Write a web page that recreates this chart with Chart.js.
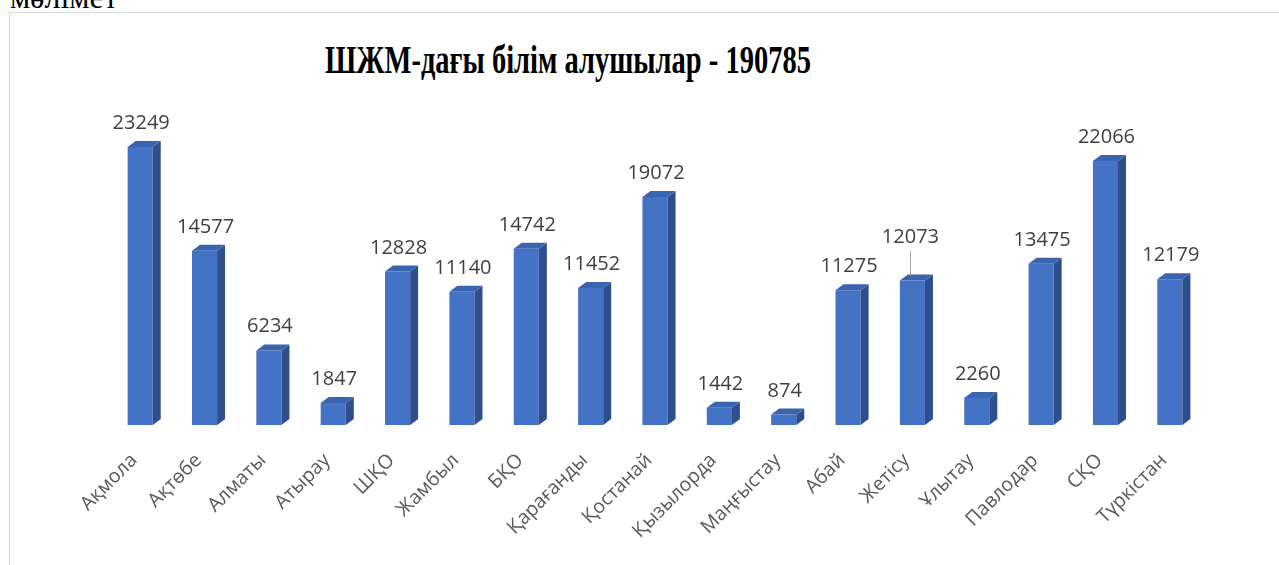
<!DOCTYPE html>
<html>
<head>
<meta charset="utf-8">
<script src="https://cdn.jsdelivr.net/npm/chart.js@4"></script>
<style>
  body { margin: 0; background: #fff; overflow: hidden; width: 1279px; height: 565px; position: relative; }
  #note { position: absolute; left: 10px; top: -19px; font: 32px/32px "Liberation Serif", serif; color: #000; }
  #frame { position: absolute; left: 9px; top: 12px; width: 1400px; height: 700px; border-left: 1px solid #d9d9d9; border-top: 1px solid #d9d9d9; }
  #title { position: absolute; left: 300px; width: 536px; top: 37px; text-align: center; font: bold 28.5px "Liberation Serif", serif; color: #000; transform: scaleY(1.42); transform-origin: center top; white-space: nowrap; }
  #wrap { position: absolute; left: 0; top: 0; width: 1279px; height: 565px; }
</style>
</head>
<body>
<div id="note">мәлімет</div>
<div id="frame"></div>
<div id="title">ШЖМ-дағы білім алушылар - 190785</div>
<div id="wrap"><canvas id="myChart"></canvas></div>
<script>
// регион атаулары мен білім алушылар саны
const regions = ["Ақмола","Ақтөбе","Алматы","Атырау","ШҚО","Жамбыл","БҚО","Қарағанды","Қостанай",
  "Қызылорда","Маңғыстау","Абай","Жетісу","Ұлытау","Павлодар","СҚО","Түркістан"];
const students = [23249,14577,6234,1847,12828,11140,14742,11452,19072,1442,874,11275,12073,2260,13475,22066,12179];

const frontColor = "#4472C4";
const sideColor = "#2E4F8D";
const topColor = "#3A63B0";
const depthX = 8, depthY = 6;
// label moved up with a leader line (index: extra px)
const raisedLabels = {12: 20};

const bars3d = {
  id: "bars3d",
  afterDatasetsDraw(chart) {
    const ctx = chart.ctx;
    const meta = chart.getDatasetMeta(0);
    ctx.save();
    meta.data.forEach((bar, i) => {
      const l = bar.x - bar.width / 2, r = bar.x + bar.width / 2;
      const t = bar.y, b = bar.base;
      // side
      ctx.fillStyle = sideColor;
      ctx.beginPath();
      ctx.moveTo(r, t); ctx.lineTo(r + depthX, t - depthY);
      ctx.lineTo(r + depthX, b - depthY); ctx.lineTo(r, b);
      ctx.closePath(); ctx.fill();
      // top
      ctx.fillStyle = topColor;
      ctx.beginPath();
      ctx.moveTo(l, t); ctx.lineTo(l + depthX, t - depthY);
      ctx.lineTo(r + depthX, t - depthY); ctx.lineTo(r, t);
      ctx.closePath(); ctx.fill();

      // value label
      const lift = raisedLabels[i] || 0;
      const lx = bar.x + 1 - (lift ? 3 : 0);
      const ly = t - 18 - lift;
      ctx.fillStyle = "#404040";
      ctx.font = "20px 'Open Sans'";
      ctx.textAlign = "center";
      ctx.textBaseline = "alphabetic";
      ctx.fillText(students[i].toString(), lx, ly);
      if (lift) {
        ctx.strokeStyle = "#a6a6a6";
        ctx.lineWidth = 1;
        ctx.beginPath();
        ctx.moveTo(Math.round(lx) + 0.5, ly + 8);
        ctx.lineTo(Math.round(lx) + 0.5, t - depthY + 1);
        ctx.stroke();
      }
    });
    ctx.restore();
  }
};

new Chart("myChart", {
  type: "bar",
  data: {
    labels: regions,
    datasets: [{
      data: students,
      backgroundColor: frontColor,
      borderWidth: 0,
      barPercentage: 0.39,
      categoryPercentage: 1
    }]
  },
  options: {
    responsive: true,
    maintainAspectRatio: false,
    animation: false,
    layout: { padding: { left: 108, right: 77, top: 126, bottom: 0 } },
    plugins: {
      legend: { display: false },
      title: { display: false },
      tooltip: { enabled: false }
    },
    scales: {
      x: {
        grid: { display: false, drawTicks: false },
        border: { display: false },
        ticks: {
          color: "#595959",
          font: { family: "'Open Sans'", size: 19.5 },
          minRotation: 45,
          maxRotation: 45,
          padding: 24,
          labelOffset: -6,
          autoSkip: false
        },
        afterFit(scale) { scale.height = 140; }
      },
      y: {
        display: false,
        min: 0,
        max: 25000
      }
    }
  },
  plugins: [bars3d]
});
</script>
</body>
</html>
